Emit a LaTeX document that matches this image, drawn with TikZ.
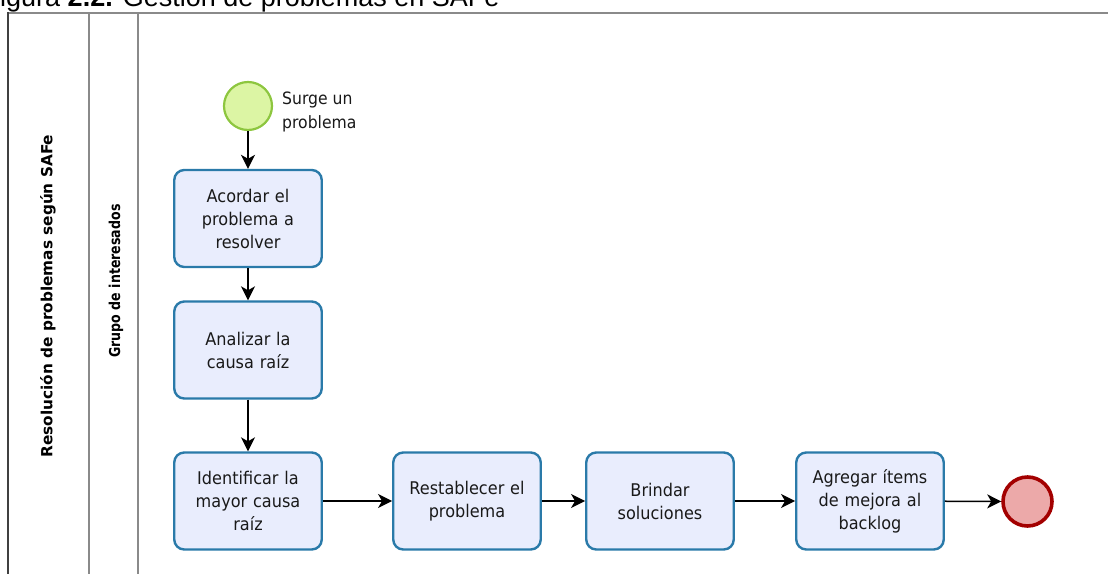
\documentclass[tikz,border=0pt]{standalone}
\usepackage{fontspec}
\setmainfont{DejaVu Sans}
\newfontfamily\capfont{Liberation Sans}
\newfontfamily\taskfont[FakeStretch=0.92]{DejaVu Sans}
\newfontfamily\poolfont{DejaVu Sans}
\newfontfamily\lanefont[FakeStretch=0.84]{DejaVu Sans}
\usetikzlibrary{arrows.meta}

\definecolor{taskblue}{HTML}{2A7AA9}
\definecolor{taskfill}{HTML}{E9EDFD}
\definecolor{startgreen}{HTML}{8DC63F}
\definecolor{startfill}{HTML}{DCF5A4}
\definecolor{endred}{HTML}{A30000}
\definecolor{endfill}{HTML}{ECA9A9}
\definecolor{lanegrey}{HTML}{8A8A8A}

\tikzset{
  task/.style={draw=taskblue, line width=2.4pt, fill=taskfill, rounded corners=10pt,
    minimum width=147.5pt, minimum height=97pt, inner sep=0pt, text width=140pt,
    align=center, text=black!90, font=\taskfont\fontsize{17.5}{23}\selectfont},
  startevt/.style={circle, draw=startgreen, line width=2.2pt, fill=startfill,
    minimum size=48pt, inner sep=0pt},
  endevt/.style={circle, draw=endred, line width=3.6pt, fill=endfill,
    minimum size=49pt, inner sep=0pt},
  flow/.style={-{Stealth[length=14pt,width=14pt,inset=4pt]}, line width=1.5pt},
  lanelabel/.style={rotate=90, inner sep=0pt},
  laneline/.style={draw=lanegrey, line width=1.4pt},
}

\begin{document}
\begin{tikzpicture}[x=1pt, y=-1pt]
\useasboundingbox (0,0) rectangle (1108,573);
\clip (0,0) rectangle (1108,573);

% caption, partly cut by the page edge
\node[anchor=base west, inner sep=0pt, font=\capfont\fontsize{27}{30}\selectfont]
  (caption) at (0,6) {igura \textbf{2.2.} Gestión de problemas en SAFe};

% pool and lane frame
\draw[laneline] (8,13) -- (1112,13);
\draw[laneline] (89,13) -- (89,580);
\draw[laneline] (138,13) -- (138,580);
\draw[draw=black!75, line width=1.4pt] (8,12.3) -- (8,580);

\node[lanelabel, font=\poolfont\bfseries\fontsize{15.3}{18}\selectfont]
  (pool) at (48,296) {Resolución de problemas según SAFe};
\node[lanelabel, font=\lanefont\bfseries\fontsize{15}{18}\selectfont]
  (lane) at (116,281) {Grupo de interesados};

% events and tasks
\node[startevt] (start) at (248,106) {};
\node[anchor=west, align=left, inner sep=0pt, text=black!90,
      font=\taskfont\fontsize{17}{24}\selectfont] (startlbl) at (282,112) {Surge un\\problema};

\node[task] (t1) at (248,218.5) {Acordar el\\problema a\\resolver};
\node[task] (t2) at (248,350) {Analizar la\\causa raíz};
\node[task] (t3) at (248,501) {Identificar la\\mayor causa\\raíz};
\node[task] (t4) at (467,501) {Restablecer el\\problema};
\node[task] (t5) at (660,501) {Brindar\\soluciones};
\node[task] (t6) at (870,501) {Agregar ítems\\de mejora al\\backlog};
\node[endevt] (finish) at (1027.5,501.5) {};

% sequence flows
\draw[flow] (start) -- (t1);
\draw[flow] (t1) -- (t2);
\draw[flow] (t2) -- (t3);
\draw[flow] (t3) -- (t4);
\draw[flow] (t4) -- (t5);
\draw[flow] (t5) -- (t6);
\draw[flow] (t6) -- (finish);
\end{tikzpicture}
\end{document}
